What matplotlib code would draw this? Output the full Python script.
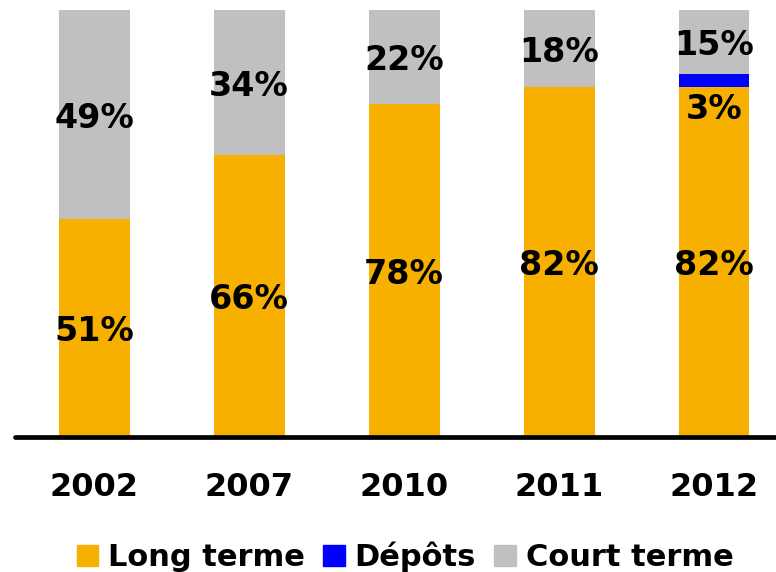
import numpy as np
import matplotlib.pyplot as plt
from matplotlib.patches import Patch

# data
years = ['2002', '2007', '2010', '2011', '2012']
long_terme = [51, 66, 78, 82, 82]
depots = [0, 0, 0, 0, 3]
court_terme = [49, 34, 22, 18, 15]

c_long = '#F8B000'
c_dep = '#0000FF'
c_court = '#C0C0C0'

plt.rcParams['font.family'] = ['DejaVu Sans']
plt.rcParams['font.weight'] = 'bold'

fig = plt.figure(figsize=(7.76, 5.72), dpi=100)
ax = fig.add_axes([15/776, 135/572, 761/776, 427/572])

x = np.arange(len(years))
w = 0.458
long_a = np.array(long_terme)
dep_a = np.array(depots)
court_a = np.array(court_terme)

ax.bar(x, long_a, w, color=c_long)
ax.bar(x, dep_a, w, bottom=long_a, color=c_dep)
ax.bar(x, court_a, w, bottom=long_a + dep_a, color=c_court)

fs = 24
dy = -0.85  # nudge labels down a little
for i in range(len(years)):
    ax.text(x[i], long_a[i] / 2 + dy, f'{long_a[i]}%', ha='center', va='center',
            fontsize=fs, fontweight='bold')
    top0 = long_a[i] + dep_a[i]
    ax.text(x[i], top0 + court_a[i] / 2 + dy, f'{court_a[i]}%', ha='center',
            va='center', fontsize=fs, fontweight='bold')
    if dep_a[i] > 0:
        # deposit label sits just below the thin blue slice
        ax.text(x[i], long_a[i] - 4.5 + dy, f'{dep_a[i]}%', ha='center',
                va='center', fontsize=fs, fontweight='bold')

ax.set_xlim(-0.51, 4.4)
ax.set_ylim(0, 100)
for s in ['top', 'right', 'left']:
    ax.spines[s].set_visible(False)
ax.spines['bottom'].set_linewidth(3.4)
ax.spines['bottom'].set_capstyle('round')
ax.set_yticks([])
ax.set_xticks(x)
ax.set_xticklabels(years, fontsize=23, fontweight='bold')
ax.tick_params(axis='x', length=0, pad=25)

handles = [Patch(color=c_long, label='Long terme'),
           Patch(color=c_dep, label='Dépôts'),
           Patch(color=c_court, label='Court terme')]
fig.legend(handles=handles, loc='center', bbox_to_anchor=(0.522, 0.026),
           ncol=3, frameon=False, handlelength=0.7,
           handleheight=0.7, handletextpad=0.33, columnspacing=0.6,
           prop={'weight': 'bold', 'size': 22})

fig.savefig('out.png', dpi=100)
